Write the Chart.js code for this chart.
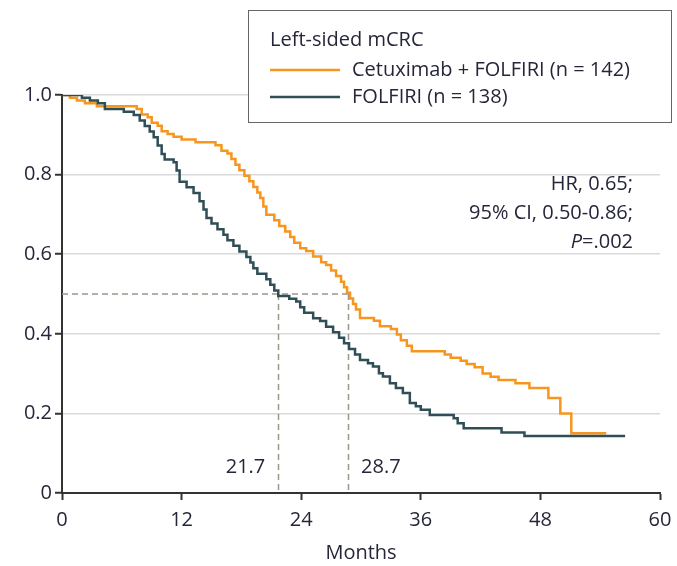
<!DOCTYPE html>
<html>
<head>
<meta charset="utf-8">
<script src="https://cdn.jsdelivr.net/npm/chart.js@4"></script>
<style>
  html, body { margin: 0; padding: 0; background: #fff; }
  #wrap { width: 677px; height: 566px; }
</style>
</head>
<body>
<div id="wrap"><canvas id="kmChart" width="677" height="566"></canvas></div>
<script>
// Cetuximab + FOLFIRI: event times (months) and survival after each event
const cetuxTimes = [0, 0.8, 1.5, 2.3, 3.5, 7.5, 8.0, 8.6, 9.0, 9.6, 10.0, 10.6, 11.2, 12.0, 13.4, 15.4,
  16.0, 16.6, 17.0, 17.4, 17.8, 18.3, 18.8, 19.2, 19.6, 19.9, 20.2, 20.5, 21.3, 21.8, 22.4, 22.9,
  23.3, 23.9, 24.5, 25.2, 26.0, 26.5, 27.0, 27.5, 28.0, 28.3, 28.6, 28.9, 29.2, 29.5, 29.9, 31.3,
  31.9, 33.0, 33.6, 34.0, 34.6, 35.1, 38.4, 39.0, 40.0, 40.6, 41.4, 42.2, 43.0, 43.8, 45.5, 46.9,
  48.8, 50.0, 51.1, 54.6];
const cetuxSurv = [1.0, 0.993, 0.986, 0.979, 0.972, 0.965, 0.951, 0.944, 0.930, 0.923, 0.909, 0.902, 0.895, 0.888, 0.881, 0.874,
  0.860, 0.853, 0.839, 0.825, 0.811, 0.797, 0.783, 0.769, 0.755, 0.741, 0.720, 0.699, 0.685, 0.671, 0.657, 0.643,
  0.629, 0.615, 0.608, 0.594, 0.580, 0.573, 0.559, 0.545, 0.531, 0.517, 0.503, 0.489, 0.475, 0.461, 0.440, 0.433,
  0.419, 0.412, 0.398, 0.384, 0.370, 0.356, 0.348, 0.340, 0.332, 0.324, 0.316, 0.300, 0.292, 0.284, 0.276, 0.264,
  0.239, 0.200, 0.150, 0.150];

// FOLFIRI alone
const folfTimes = [0, 2.0, 2.8, 3.6, 4.3, 6.2, 7.2, 7.8, 8.3, 8.8, 9.2, 9.6, 10.0, 10.3, 11.2, 11.5,
  11.8, 12.5, 13.2, 13.8, 14.2, 14.5, 15.0, 15.6, 16.2, 16.6, 17.2, 17.8, 18.5, 18.9, 19.2, 19.6,
  20.5, 20.9, 21.3, 21.7, 22.8, 23.5, 23.9, 24.3, 25.2, 25.9, 26.5, 27.2, 27.8, 28.3, 28.8, 29.4,
  29.9, 30.7, 31.2, 31.8, 32.2, 32.9, 33.5, 34.2, 34.9, 35.5, 36.0, 36.9, 39.3, 39.7, 40.3, 44.1,
  46.4, 56.5];
const folfSurv = [1.0, 0.993, 0.986, 0.979, 0.965, 0.958, 0.950, 0.936, 0.922, 0.908, 0.894, 0.873, 0.852, 0.838, 0.831, 0.810,
  0.782, 0.768, 0.754, 0.733, 0.712, 0.691, 0.677, 0.663, 0.649, 0.635, 0.621, 0.607, 0.593, 0.579, 0.565, 0.551,
  0.537, 0.523, 0.509, 0.495, 0.488, 0.481, 0.467, 0.453, 0.439, 0.432, 0.418, 0.404, 0.390, 0.376, 0.362, 0.348,
  0.334, 0.326, 0.318, 0.301, 0.293, 0.276, 0.264, 0.251, 0.226, 0.218, 0.209, 0.196, 0.188, 0.175, 0.163, 0.152,
  0.143, 0.143];

const seriesLabels = ['Cetuximab + FOLFIRI (n = 142)', 'FOLFIRI (n = 138)'];
const seriesColors = ['#f7961f', '#2f4e56'];
const legendTitle = 'Left-sided mCRC';
const medians = [21.7, 28.7];
const medianLabels = ['21.7', '28.7'];
const xTicks = [0, 12, 24, 36, 48, 60];
const yTicks = [0, 0.2, 0.4, 0.6, 0.8, 1.0];
const statLines = ['HR, 0.65;', '95% CI, 0.50-0.86;'];

const FONT = "'Open Sans', 'Liberation Sans', sans-serif";
const TEXT = '#26263a';

function toPoints(times, surv) {
  return times.map((t, i) => ({ x: t, y: surv[i] }));
}

const overlay = {
  id: 'overlay',
  beforeDatasetsDraw(chart) {
    const { ctx, scales: { x, y } } = chart;
    const yHalf = y.getPixelForValue(0.5);
    const y0 = y.getPixelForValue(0);
    ctx.save();
    ctx.strokeStyle = '#9d978b';
    ctx.lineWidth = 1.5;
    ctx.setLineDash([6, 4]);
    ctx.beginPath();
    ctx.moveTo(x.getPixelForValue(0), yHalf);
    ctx.lineTo(x.getPixelForValue(medians[1]), yHalf);
    medians.forEach(m => {
      const px = Math.round(x.getPixelForValue(m)) + 0.5;
      ctx.moveTo(px, yHalf);
      ctx.lineTo(px, y0);
    });
    ctx.stroke();
    ctx.restore();
  },
  afterDraw(chart) {
    const { ctx, chartArea, scales: { x, y } } = chart;
    ctx.save();
    ctx.font = `20px ${FONT}`;
    ctx.fillStyle = TEXT;
    ctx.textBaseline = 'middle';

    // median labels
    const labY = y.getPixelForValue(0.065);
    ctx.textAlign = 'right';
    ctx.fillText(medianLabels[0], x.getPixelForValue(medians[0]) - 13, labY);
    ctx.textAlign = 'left';
    ctx.fillText(medianLabels[1], x.getPixelForValue(medians[1]) + 13, labY);

    // axis title
    ctx.textAlign = 'center';
    ctx.fillText('Months', (chartArea.left + chartArea.right) / 2, 553);

    // HR block
    ctx.textAlign = 'right';
    const rx = 633;
    ctx.fillText(statLines[0], rx, 184);
    ctx.fillText(statLines[1], rx, 213);
    const pRest = '=.002';
    const wRest = ctx.measureText(pRest).width;
    ctx.fillText(pRest, rx, 242);
    ctx.font = `italic 20px ${FONT}`;
    ctx.fillText('P', rx - wRest, 242);

    // legend box
    ctx.fillStyle = '#fff';
    ctx.fillRect(248, 10, 424, 113);
    ctx.strokeStyle = '#666';
    ctx.lineWidth = 1;
    ctx.strokeRect(248.5, 10.5, 423, 112);
    ctx.font = `20px ${FONT}`;
    ctx.fillStyle = TEXT;
    ctx.textAlign = 'left';
    ctx.fillText(legendTitle, 270, 40);
    seriesLabels.forEach((lab, i) => {
      const ly = 70 + i * 27;
      ctx.strokeStyle = seriesColors[i];
      ctx.lineWidth = 2.5;
      ctx.beginPath();
      ctx.moveTo(270, ly);
      ctx.lineTo(340, ly);
      ctx.stroke();
      ctx.fillText(lab, 352, ly);
    });
    ctx.restore();
  }
};

new Chart(document.getElementById('kmChart'), {
  type: 'line',
  data: {
    datasets: [
      {
        label: seriesLabels[0],
        data: toPoints(cetuxTimes, cetuxSurv),
        borderColor: seriesColors[0],
        borderWidth: 2.5,
        stepped: true,
        pointRadius: 0,
        order: 1
      },
      {
        label: seriesLabels[1],
        data: toPoints(folfTimes, folfSurv),
        borderColor: seriesColors[1],
        borderWidth: 2.5,
        stepped: true,
        pointRadius: 0,
        order: 0
      }
    ]
  },
  options: {
    responsive: false,
    animation: false,
    layout: { padding: { top: 95, right: 17, left: 0, bottom: 0 } },
    plugins: { legend: { display: false }, tooltip: { enabled: false } },
    scales: {
      x: {
        type: 'linear',
        min: 0,
        max: 60,
        afterBuildTicks: s => { s.ticks = xTicks.map(v => ({ value: v })); },
        afterFit: s => { s.height = 73; s.paddingLeft = 0; s.paddingRight = 0; },
        grid: { drawOnChartArea: false, drawTicks: true, tickLength: 7, tickColor: '#333', tickWidth: 2 },
        border: { color: '#333', width: 2 },
        ticks: { color: TEXT, font: { family: FONT, size: 20 }, padding: 8, maxRotation: 0 }
      },
      y: {
        min: 0,
        max: 1,
        afterBuildTicks: s => { s.ticks = yTicks.map(v => ({ value: v })); },
        afterFit: s => { s.width = 62; s.paddingTop = 0; s.paddingBottom = 0; },
        grid: { color: '#dadada', lineWidth: 1.5, tickLength: 7, tickColor: '#333', tickWidth: 2 },
        border: { color: '#333', width: 2 },
        ticks: {
          color: TEXT,
          font: { family: FONT, size: 20 },
          padding: 3,
          callback: v => (v === 0 ? '0' : v.toFixed(1))
        }
      }
    }
  },
  plugins: [overlay]
});
</script>
</body>
</html>
